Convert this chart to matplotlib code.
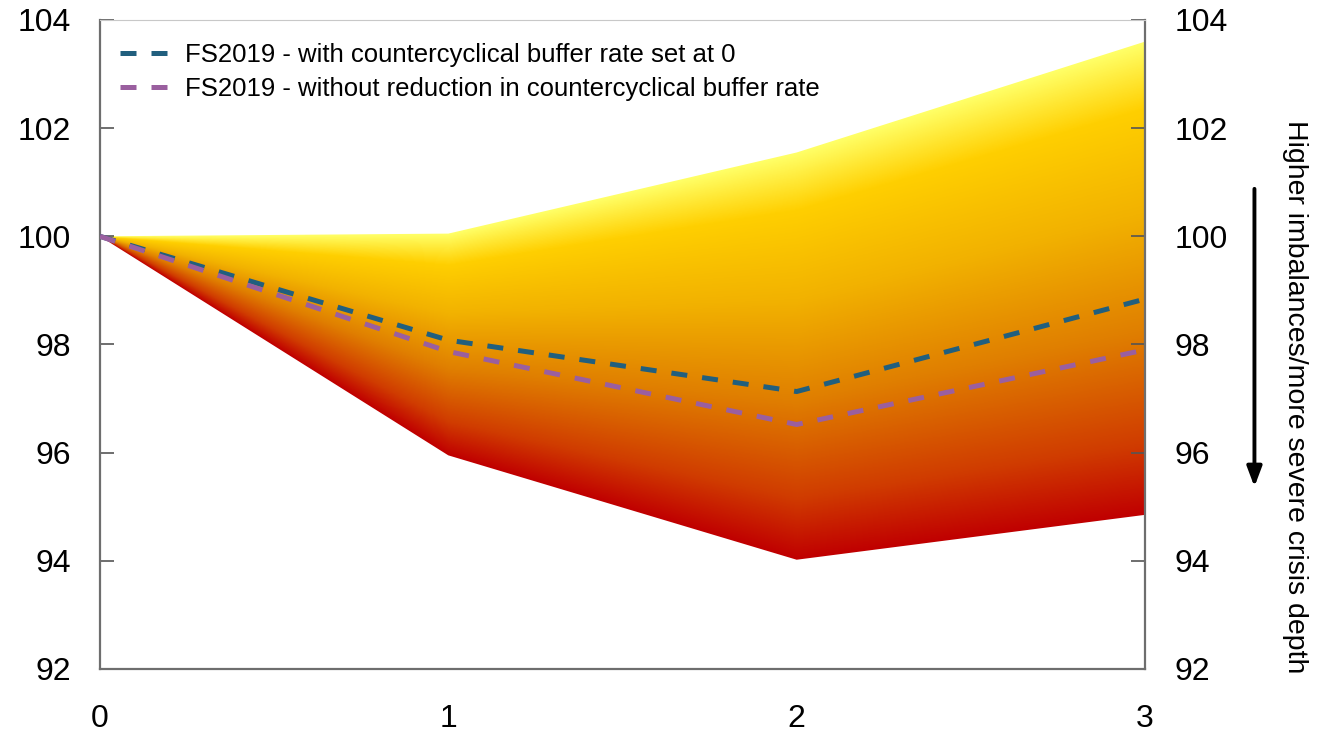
import numpy as np
import matplotlib
matplotlib.use("Agg")
import matplotlib.pyplot as plt
from matplotlib.colors import LinearSegmentedColormap
from matplotlib.patches import Polygon

plt.rcParams['font.family'] = ['Liberation Sans', 'DejaVu Sans']

# Horizon (years) and fan-chart bounds
years = [0, 1, 2, 3]
fan_upper = [100.0, 100.05, 101.55, 103.6]
fan_lower = [100.0, 95.95, 94.02, 94.85]

# Scenario paths
ccyb_zero = [100.0, 98.08, 97.13, 98.84]
ccyb_unchanged = [100.0, 97.87, 96.52, 97.9]

label_zero = "FS2019 - with countercyclical buffer rate set at 0"
label_unchanged = "FS2019 - without reduction in countercyclical buffer rate"
side_label = "Higher imbalances/more severe crisis depth"

y_ticks = [92, 94, 96, 98, 100, 102, 104]
x_ticks = [0, 1, 2, 3]

fig = plt.figure(figsize=(13.17, 7.32), dpi=100)
ax = fig.add_axes([0.0759, 0.0861, 0.7935, 0.8866])

# Gradient fill: colour by relative position inside the band
cmap = LinearSegmentedColormap.from_list(
    "fan",
    [(0.0, "#c00000"), (0.15, "#d03c00"), (0.39, "#e07f00"),
     (0.64, "#f2b200"), (0.86, "#ffcf00"), (1.0, "#ffff66")])
gx = np.linspace(years[0], years[-1], 800)
gy = np.linspace(92, 104, 800)
GX, GY = np.meshgrid(gx, gy)
lo = np.interp(GX, years, fan_lower)
hi = np.interp(GX, years, fan_upper)
span = np.where(hi - lo > 1e-6, hi - lo, 1e-6)
T = np.clip((GY - lo) / span, 0, 1)
img = ax.imshow(T, extent=[gx[0], gx[-1], gy[0], gy[-1]], origin="lower",
                cmap=cmap, vmin=0, vmax=1, aspect="auto",
                interpolation="bilinear", zorder=1)
verts = list(zip(years, fan_upper)) + list(zip(years[::-1], fan_lower[::-1]))
clip = Polygon(verts, closed=True, transform=ax.transData,
               facecolor="none", edgecolor="none")
ax.add_patch(clip)
img.set_clip_path(clip)

ax.plot(years, ccyb_zero, color="#215f7e", lw=3.6, dashes=(3.2, 3.0),
        label=label_zero, zorder=3)
ax.plot(years, ccyb_unchanged, color="#9a5f9f", lw=3.6, dashes=(3.2, 3.0),
        label=label_unchanged, zorder=3)

ax.set_xlim(0, 3)
ax.set_ylim(92, 104)
ax.set_xticks(x_ticks)
ax.set_yticks(y_ticks)

for side in ("left", "right", "bottom"):
    ax.spines[side].set_color("#6e6e6e")
    ax.spines[side].set_linewidth(1.6)
ax.spines["top"].set_color("#c8c8c8")
ax.spines["top"].set_linewidth(0.8)

ax.tick_params(axis="y", direction="in", length=10, width=1.2, color="#555555",
               labelsize=23, pad=21, left=True, right=True,
               labelleft=True, labelright=True)
ax.tick_params(axis="x", direction="in", length=10, width=1.0, color="#555555",
               labelsize=23, pad=25)
for t in ax.xaxis.get_major_ticks():
    if t.get_loc() in (0, 3):
        t.tick1line.set_visible(False)

leg = ax.legend(loc="upper left", frameon=False, fontsize=18.5,
                handlelength=2.0, handletextpad=0.55, labelspacing=0.38,
                borderaxespad=0.5, bbox_to_anchor=(-0.003, 1.0))

fig.text(0.983, 0.4577, side_label, rotation=-90, ha="center", va="center",
         fontsize=20.5)
fig.add_artist(plt.Annotation(
    "", xy=(0.9525, 0.335), xytext=(0.9525, 0.742),
    xycoords="figure fraction", textcoords="figure fraction",
    arrowprops=dict(arrowstyle="-|>,head_length=1.2,head_width=0.45",
                    color="black", lw=2.8, shrinkA=0, shrinkB=0)))

fig.savefig("out.png", dpi=100)
